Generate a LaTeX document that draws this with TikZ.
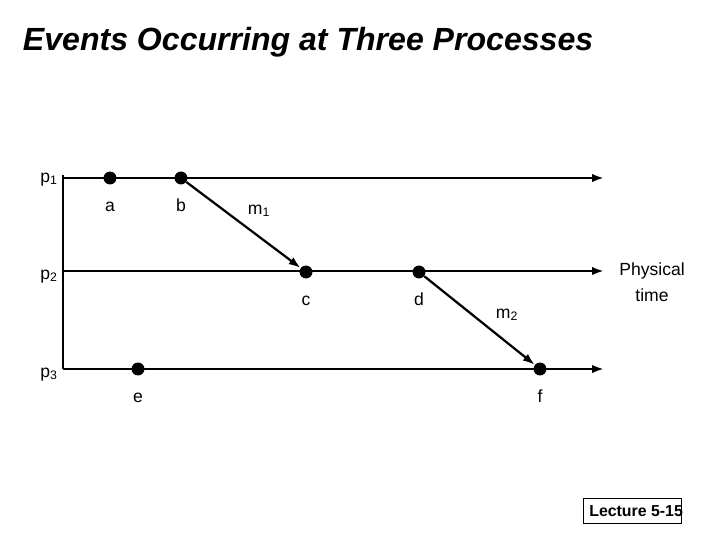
\documentclass[tikz,border=0pt]{standalone}
\usepackage{fontspec}
\setmainfont{Liberation Sans}
\usetikzlibrary{arrows.meta}
\tikzset{
	lbl/.style={font=\fontsize{12.5}{15}\selectfont,inner sep=0pt,text height=9pt,text depth=0pt},
	dot/.style 2 args={circle,inner sep=0pt,minimum size=9.2pt,fill,label={[lbl,label distance=9.8pt]#1:{#2}},name=#2},
	proc/.style={line width=1.6pt,-{Latex[length=8.5pt,width=6pt]}},
	msg/.style={line width=1.6pt,-{Latex[length=8.5pt,width=6pt]}}
}
\begin{document}
\begin{tikzpicture}[x=0.025cm,y=-0.025cm]
	\useasboundingbox (0,0) rectangle (720,540);
	\node [anchor=base west,font=\fontsize{22.8}{27}\selectfont\bfseries\itshape] (title) at (18,50) {Events Occurring at Three Processes};

	\node [lbl,anchor=base east] (p1) at (58,182) {p\textsubscript{1}};
	\node [lbl,anchor=base east] (p2) at (58,279) {p\textsubscript{2}};
	\node [lbl,anchor=base east] (p3) at (58,377) {p\textsubscript{3}};

	\coordinate (s1) at (63,178);
	\coordinate (s2) at (63,271);
	\coordinate (s3) at (63,369);
	\coordinate (t1) at (604,178);
	\coordinate (t2) at (604,271);
	\coordinate (t3) at (604,369);

	\draw [line width=1.6pt] ([yshift=2pt]s1) -- (s3);
	\draw [proc] (s1) -- (t1);
	\draw [proc] (s2) -- (t2);
	\draw [proc] (s3) -- (t3);

	\node [dot={below}{a}] at (110,178) {};
	\node [dot={below}{b}] at (181,178) {};
	\node [dot={below}{c}] at (306,272) {};
	\node [dot={below}{d}] at (419,272) {};
	\node [dot={below}{e}] at (138,369) {};
	\node [dot={below}{f}] at (540,369) {};

	\draw [msg] (b) -- (c);
	\draw [msg] (d) -- (f);
	\node [lbl,anchor=base] (m1) at (259,214) {m\textsubscript{1}};
	\node [lbl,anchor=base] (m2) at (507,318) {m\textsubscript{2}};

	\node [lbl,align=center,text height=,font=\fontsize{12.5}{19}\selectfont] (phys) at (652,282) {Physical\\time};

	\node [draw,line width=0.6pt,minimum width=2.45cm,minimum height=0.625cm,inner sep=0pt] (lecbox) at (632,510.5) {};
	\node [anchor=base west,inner sep=0pt,font=\fontsize{11.3}{13}\selectfont\bfseries] (lecture) at (589,516) {Lecture 5-15};
\end{tikzpicture}
\end{document}
